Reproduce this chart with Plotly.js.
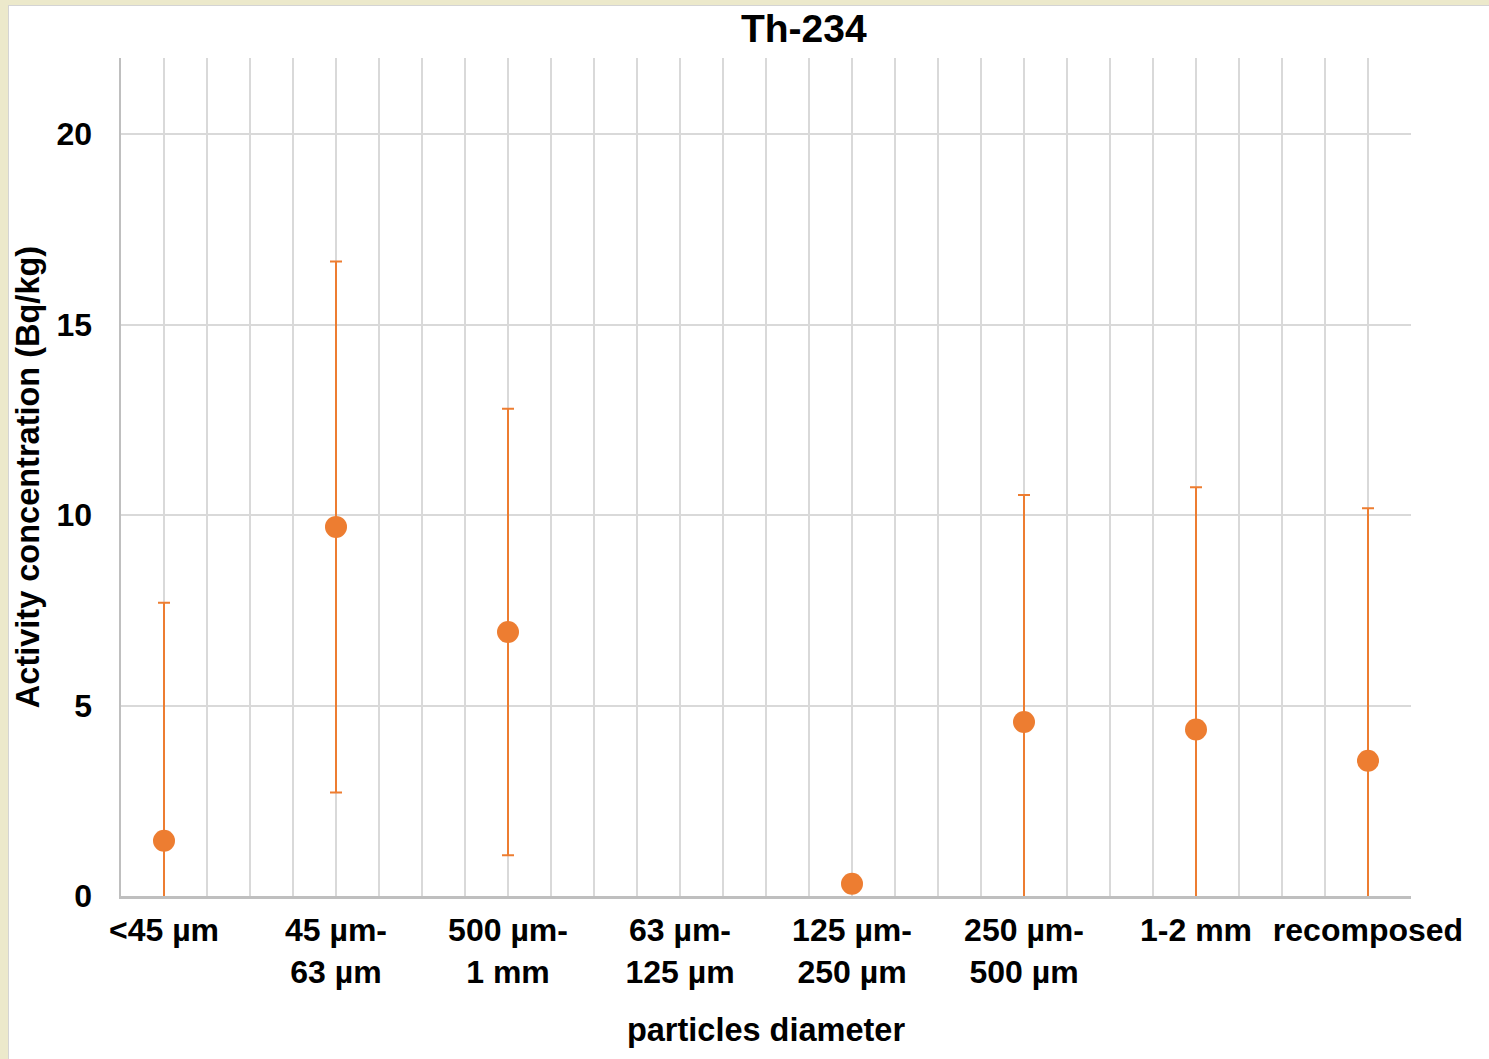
<!DOCTYPE html>
<html>
<head>
<meta charset="utf-8">
<script src="https://cdn.plot.ly/plotly-3.0.1.min.js"></script>
<style>
  html, body { margin: 0; padding: 0; width: 1489px; height: 1059px; overflow: hidden; background: #ECE9CB; }
  #frame { position: absolute; left: 8px; top: 5px; width: 1481px; height: 1054px; background: #ffffff; border-left: 1px solid #d4d4d4; border-top: 1px solid #d4d4d4; }
  #chart { width: 1480px; height: 1053px; }
</style>
</head>
<body>
<div id="frame"><div id="chart"></div></div>
<script>
// Th-234 activity concentration per particle size fraction
const categories = ['<45 µm', '45 µm-<br>63 µm', '500 µm-<br>1 mm', '63 µm-<br>125 µm',
                    '125 µm-<br>250 µm', '250 µm-<br>500 µm', '1-2 mm', 'recomposed'];
const positions = [1, 2, 3, 4, 5, 6, 7, 8];
const activity = [1.45, 9.69, 6.93, null, 0.32, 4.57, 4.37, 3.55];
const uncertainty = [6.25, 6.97, 5.86, null, null, 5.96, 6.36, 6.63];
const yTicks = [0, 5, 10, 15, 20];

const orange = '#ED7D31';
const grid = '#d9d9d9';
const font = 'Liberation Sans, Arial, sans-serif';

const trace = {
  type: 'scatter',
  mode: 'markers',
  x: positions,
  y: activity,
  marker: { color: orange, size: 22 },
  error_y: { type: 'data', array: uncertainty, symmetric: true, visible: true,
             color: orange, thickness: 2, width: 6 },
  hoverinfo: 'x+y',
  showlegend: false
};

const layout = {
  width: 1480,
  height: 1053,
  margin: { l: 112, r: 78, t: 52, b: 163 },
  paper_bgcolor: '#ffffff',
  plot_bgcolor: '#ffffff',
  font: { family: font, color: '#000000' },
  title: { text: '<b>Th-234</b>', font: { size: 39, family: font, color: '#000' },
           x: 0.537, xref: 'container', xanchor: 'center', y: 0.995, yanchor: 'top', yref: 'container', pad: { t: 3 } },
  xaxis: {
    range: [0.75, 8.25],
    tickmode: 'array',
    tickvals: positions,
    ticktext: categories.map(c => '<b>' + c + '</b>'),
    tickangle: 0,
    tickfont: { size: 32, family: font, color: '#000' },
    ticks: '',
    ticklabelstandoff: 4,
    showgrid: true,
    gridcolor: grid,
    gridwidth: 2,
    minor: { tickmode: 'linear', tick0: 0.75, dtick: 0.25, showgrid: true, gridcolor: grid, gridwidth: 2, ticks: '' },
    showline: true,
    linecolor: '#bfbfbf',
    linewidth: 2.5,
    zeroline: false,
    fixedrange: true,
    title: { text: '<b>particles diameter</b>', font: { size: 32.5, family: font, color: '#000' }, standoff: 30 }
  },
  yaxis: {
    range: [0, 22],
    tickvals: yTicks,
    ticktext: yTicks.map(v => '<b>' + v + '</b>'),
    tickfont: { size: 32, family: font, color: '#000' },
    ticks: '',
    ticklabelstandoff: 20,
    showgrid: true,
    gridcolor: grid,
    gridwidth: 2,
    showline: true,
    linecolor: '#bfbfbf',
    linewidth: 2.5,
    zeroline: false,
    fixedrange: true,
    title: { text: '<b>Activity concentration (Bq/kg)</b>', font: { size: 32.5, family: font, color: '#000' }, standoff: 7 }
  }
};

Plotly.newPlot('chart', [trace], layout, { displayModeBar: false, staticPlot: true });
</script>
</body>
</html>
